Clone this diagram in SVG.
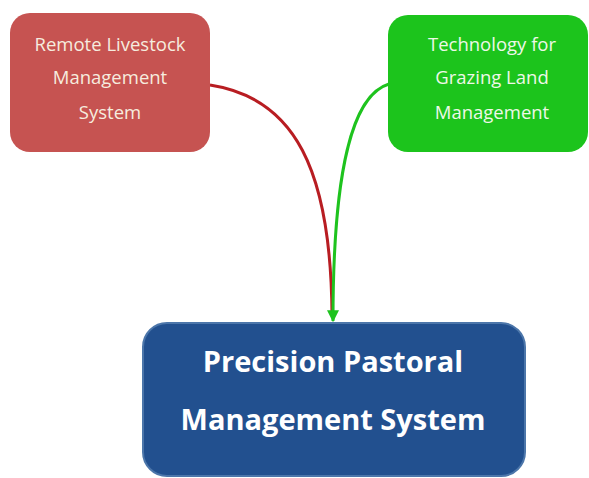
<svg xmlns="http://www.w3.org/2000/svg" width="589" height="478" viewBox="0 0 589 478">
  <style>
    .small { font-family: "Open Sans", "Liberation Sans", sans-serif; font-size: 18.5px; text-anchor: middle; }
    .big { font-family: "Open Sans", "Liberation Sans", sans-serif; font-size: 29px; font-weight: bold; fill: #ffffff; text-anchor: middle; }
    .link { fill: none; stroke-width: 3; }
  </style>
  <defs>
    <marker id="arrow-green" viewBox="0 0 10 10" refX="9" refY="5" markerWidth="4" markerHeight="4" orient="auto" markerUnits="strokeWidth">
      <path d="M0,0 L10,5 L0,10 z" fill="#1ec31e"/>
    </marker>
  </defs>
  <rect width="589" height="478" fill="#ffffff"/>

  <g id="connectors">
    <path class="link" d="M210,85 C295,98 331,170 332,315" stroke="#b81d22"/>
    <path class="link" d="M389,84 C352,95 333,170 333,321" stroke="#1ec31e" marker-end="url(#arrow-green)"/>
  </g>

  <g id="node-remote-livestock">
    <rect x="10" y="13" width="200" height="139" rx="20" fill="#c65351"/>
    <text class="small" x="110" y="51" fill="#f6ecdf">Remote Livestock</text>
    <text class="small" x="110" y="84" fill="#f6ecdf">Management</text>
    <text class="small" x="110" y="119" fill="#f6ecdf">System</text>
  </g>

  <g id="node-grazing-land">
    <rect x="388" y="15" width="200" height="137" rx="20" fill="#1cc41c"/>
    <text class="small" x="492" y="51" fill="#eef8e8">Technology for</text>
    <text class="small" x="492" y="84" fill="#eef8e8">Grazing Land</text>
    <text class="small" x="492" y="119" fill="#eef8e8">Management</text>
  </g>

  <g id="node-precision-pastoral">
    <rect x="143" y="323" width="382" height="153" rx="24" fill="#22508f" stroke="#4c76aa" stroke-width="2"/>
    <text class="big" x="333" y="372">Precision Pastoral</text>
    <text class="big" x="333" y="430">Management System</text>
  </g>
</svg>
